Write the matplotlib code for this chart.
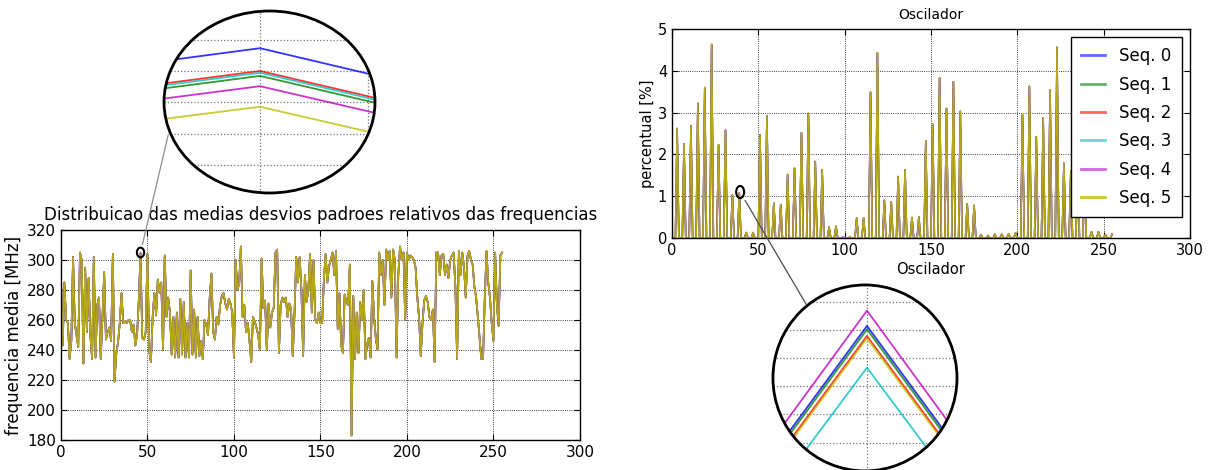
import numpy as np
import matplotlib.pyplot as plt
from matplotlib.patches import Ellipse, ConnectionPatch
from matplotlib.ticker import MultipleLocator

labels = ["Seq. 0", "Seq. 1", "Seq. 2", "Seq. 3", "Seq. 4", "Seq. 5"]
colors = ["b", "g", "r", "c", "m", "y"]

# mean frequency of each oscillator [MHz]  (all sequences almost the same)
freq_mean = [
    288, 243, 285, 260, 258, 234, 246, 302, 258, 250,
    242, 305, 300, 231, 295, 252, 288, 250, 234, 302,
    235, 270, 275, 234, 262, 292, 247, 252, 255, 246,
    304, 219, 238, 245, 258, 278, 258, 259, 258, 260,
    260, 252, 257, 243, 250, 273, 305, 248, 247, 252,
    304, 240, 232, 262, 278, 263, 287, 278, 285, 240,
    303, 262, 275, 265, 237, 262, 235, 265, 235, 274,
    237, 272, 235, 258, 235, 293, 237, 267, 235, 262,
    236, 246, 234, 260, 257, 250, 275, 291, 252, 247,
    262, 257, 270, 276, 278, 271, 267, 274, 271, 265,
    235, 300, 280, 284, 309, 262, 270, 252, 258, 246,
    232, 262, 259, 255, 250, 240, 301, 268, 273, 240,
    271, 255, 265, 268, 305, 307, 238, 270, 275, 272,
    275, 262, 271, 268, 236, 264, 302, 285, 302, 280,
    236, 290, 272, 280, 304, 265, 300, 260, 258, 265,
    258, 258, 287, 304, 285, 296, 300, 305, 290, 306,
    254, 278, 243, 238, 277, 272, 270, 297, 183, 276,
    234, 265, 238, 272, 260, 280, 234, 244, 248, 235,
    286, 262, 248, 240, 305, 290, 300, 270, 307, 300,
    306, 275, 307, 300, 235, 290, 309, 300, 305, 260,
    305, 300, 303, 302, 300, 295, 275, 262, 236, 258,
    273, 276, 272, 262, 260, 267, 232, 305, 305, 290,
    303, 304, 290, 297, 288, 300, 303, 305, 282, 234,
    306, 290, 305, 295, 275, 303, 306, 300, 297, 282,
    275, 262, 248, 234, 234, 275, 306, 285, 275, 258,
    246, 305, 270, 256, 303, 305,
]
# value of each sequence at oscillator 46 (read from the magnifier)
freq_osc46 = [305.01, 304.39, 304.50, 304.46, 304.16, 303.70]

# relative deviation [%]: only every 4th oscillator (3, 7, 11, ...) is non zero
perc_osc = list(range(3, 256, 4))
perc_peaks = [
    2.62, 2.25, 2.68, 3.22, 3.60, 4.63, 2.23, 2.58,
    1.03, 1.08, 0.13, 0.13, 2.47, 2.92, 0.83, 0.80,
    1.52, 1.67, 2.52, 2.98, 1.83, 1.63, 0.26, 0.28,
    0.02, 0.02, 0.48, 0.48, 3.49, 4.43, 0.90, 0.86,
    1.47, 1.63, 0.49, 0.50, 2.32, 2.72, 3.83, 3.10,
    3.74, 3.03, 0.82, 0.78, 0.08, 0.06, 0.09, 0.09,
    0.10, 0.12, 2.95, 3.63, 2.42, 2.87, 3.54, 4.56,
    1.79, 1.60, 2.10, 1.40, 0.15, 0.15, 0.08, 0.10,
]
# value of each sequence at oscillator 39 (read from the magnifier)
perc_osc39 = [1.0814, 1.0802, 1.0778, 1.0666, 1.0868, 1.0770]

n_osc = len(freq_mean)
osc = np.arange(n_osc)

freq = []
perc = []
for k in range(len(labels)):
    f = np.array(freq_mean, dtype=float)
    f[46] = freq_osc46[k]
    freq.append(f)
    p = np.zeros(n_osc)
    p[perc_osc] = perc_peaks
    p[39] = perc_osc39[k]
    perc.append(p)

# the last sequence is drawn on top
alphas = [0.6, 0.6, 0.6, 0.6, 0.6, 0.85]


def style_axes(ax, size):
    ax.grid(True, ls=":", color="k", lw=0.6)
    ax.tick_params(direction="in", top=True, right=True, labelsize=size, length=4)
    for s in ax.spines.values():
        s.set_linewidth(1.0)


def magnifier(rect, xlim, xstep, ylim, ystep, series):
    ax = fig.add_axes(rect)
    ax.set_xlim(xlim)
    ax.set_ylim(ylim)
    ax.xaxis.set_major_locator(MultipleLocator(xstep))
    ax.yaxis.set_major_locator(MultipleLocator(ystep))
    back = Ellipse((0.5, 0.5), 1, 1, transform=ax.transAxes, fc="white", ec="none", zorder=0)
    ax.add_patch(back)
    for x in ax.get_xticks():
        g = ax.axvline(x, ls=":", color="0.45", lw=0.9, zorder=1)
        g.set_clip_path(back)
    for y in ax.get_yticks():
        g = ax.axhline(y, ls=":", color="0.45", lw=0.9, zorder=1)
        g.set_clip_path(back)
    for k in range(len(series)):
        l, = ax.plot(osc, series[k], color=colors[k], lw=1.3, alpha=0.8, zorder=2)
        l.set_clip_path(back)
    rim = Ellipse((0.5, 0.5), 1, 1, transform=ax.transAxes, fc="none", ec="k", lw=2, zorder=5, clip_on=False)
    ax.add_patch(rim)
    ax.set_xticks([])
    ax.set_yticks([])
    for s in ax.spines.values():
        s.set_visible(False)
    ax.patch.set_visible(False)
    ax.set_xlim(xlim)
    ax.set_ylim(ylim)
    return ax


fig = plt.figure(figsize=(12.14, 4.70), dpi=100)

### left: mean frequencies
ax1 = fig.add_axes([0.0502, 0.0638, 0.4275, 0.4468])
for k in range(len(labels)):
    ax1.plot(osc, freq[k], color=colors[k], lw=1.2, alpha=alphas[k], label=labels[k])
ax1.set_xlim(0, 300)
ax1.set_ylim(180, 320)
ax1.set_xticks(range(0, 301, 50))
ax1.set_yticks(range(180, 321, 20))
style_axes(ax1, 11)
ax1.set_title("Distribuicao das medias desvios padroes relativos das frequencias", fontsize=12, pad=7)
ax1.set_ylabel("frequencia media [MHz]", fontsize=12, labelpad=3)
ax1.add_patch(Ellipse((46, freq_mean[46]), 4.2, 6.5, fc="none", ec="k", lw=1.5, zorder=6))

### right: relative deviations
ax2 = fig.add_axes([0.5535, 0.4936, 0.4267, 0.4447])
for k in range(len(labels)):
    ax2.plot(osc, perc[k], color=colors[k], lw=1.1, alpha=alphas[k], label=labels[k])
ax2.set_xlim(0, 300)
ax2.set_ylim(0, 5)
ax2.set_xticks(range(0, 301, 50))
ax2.set_yticks(range(0, 6))
style_axes(ax2, 10.5)
ax2.set_title("Oscilador", fontsize=10, pad=7)
ax2.set_xlabel("Oscilador", fontsize=10.5, labelpad=3)
ax2.set_ylabel("percentual [%]", fontsize=10.5, labelpad=2)
leg = ax2.legend(loc="upper right", fontsize=12, labelspacing=0.62, handlelength=1.45,
                 handletextpad=0.85, borderpad=0.6, fancybox=False, edgecolor="k", framealpha=1)
for h in leg.get_lines():
    h.set_linewidth(2)
ax2.add_patch(Ellipse((39.5, 1.1), 4.6, 0.29, fc="none", ec="k", lw=1.5, zorder=6))

### magnifiers
zoom1 = magnifier([0.1351, 0.5894, 0.1738, 0.3872], (45.99111, 46.01065), 0.01,
                  (301.771, 305.842), 0.7, freq)
zoom2 = magnifier([0.6367, -0.002, 0.1516, 0.3957], (38.95804, 39.04018), 1.0,
                  (1.02996, 1.09592), 0.01, perc)

con1 = ConnectionPatch(xyA=(46, freq_mean[46]), coordsA=ax1.transData,
                       xyB=(0.02, 0.32), coordsB=zoom1.transAxes,
                       color="0.55", lw=0.9, shrinkA=6, shrinkB=0)
fig.add_artist(con1)
con2 = ConnectionPatch(xyA=(39.5, 1.1), coordsA=ax2.transData,
                       xyB=(0.183, 0.892), coordsB=zoom2.transAxes,
                       color="0.3", lw=0.9, shrinkA=7, shrinkB=0)
fig.add_artist(con2)

plt.savefig("out.png", dpi=100)
